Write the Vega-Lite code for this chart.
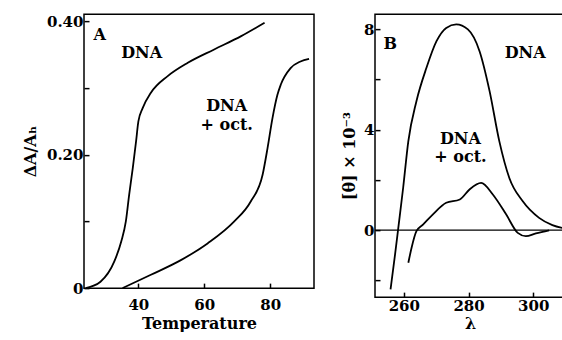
{
  "$schema": "https://vega.github.io/schema/vega-lite/v6.json",
  "background": "white",
  "padding": {"left": 21, "top": 13, "right": 0, "bottom": 0},
  "spacing": 25,
  "center": true,
  "config": {
    "view": {"stroke": "black", "strokeWidth": 1.5},
    "font": "DejaVu Serif",
    "axis": {
      "grid": false, "domain": false, "tickColor": "black", "tickSize": -5, "tickWidth": 1.5,
      "labelFont": "DejaVu Serif", "labelFontWeight": "bold", "labelFontSize": 15, "labelColor": "black",
      "titleFont": "DejaVu Serif", "titleFontWeight": "bold", "titleFontSize": 16, "titleColor": "black",
      "labelPadding": 6, "labelOverlap": false
    },
    "text": {"font": "DejaVu Serif", "fontWeight": "bold", "fontSize": 16, "color": "black"}
  },
  "datasets": {
    "melt": [
      {"series": "DNA", "T": 24, "v": 0},
      {"series": "DNA", "T": 28.5, "v": 0.0095},
      {"series": "DNA", "T": 32.7, "v": 0.04},
      {"series": "DNA", "T": 34.8, "v": 0.07},
      {"series": "DNA", "T": 36.2, "v": 0.10},
      {"series": "DNA", "T": 37.2, "v": 0.14},
      {"series": "DNA", "T": 38.3, "v": 0.18},
      {"series": "DNA", "T": 39.3, "v": 0.22},
      {"series": "DNA", "T": 40, "v": 0.25},
      {"series": "DNA", "T": 41.3, "v": 0.27},
      {"series": "DNA", "T": 43.8, "v": 0.293},
      {"series": "DNA", "T": 48.9, "v": 0.318},
      {"series": "DNA", "T": 55, "v": 0.338},
      {"series": "DNA", "T": 63, "v": 0.358},
      {"series": "DNA", "T": 71.2, "v": 0.378},
      {"series": "DNA", "T": 78.3, "v": 0.398},
      {"series": "oct", "T": 35.2, "v": 0},
      {"series": "oct", "T": 43.8, "v": 0.02},
      {"series": "oct", "T": 52.9, "v": 0.042},
      {"series": "oct", "T": 61, "v": 0.067},
      {"series": "oct", "T": 69.1, "v": 0.10},
      {"series": "oct", "T": 74.1, "v": 0.13},
      {"series": "oct", "T": 77.7, "v": 0.17},
      {"series": "oct", "T": 79.2, "v": 0.21},
      {"series": "oct", "T": 80.7, "v": 0.255},
      {"series": "oct", "T": 82.2, "v": 0.29},
      {"series": "oct", "T": 83.2, "v": 0.305},
      {"series": "oct", "T": 86.2, "v": 0.33},
      {"series": "oct", "T": 89.2, "v": 0.34},
      {"series": "oct", "T": 91.8, "v": 0.344}
    ],
    "cd": [
      {"series": "DNA", "w": 255.9, "t": -2.36},
      {"series": "DNA", "w": 257.3, "t": -0.97},
      {"series": "DNA", "w": 258.3, "t": 0.09},
      {"series": "DNA", "w": 259.8, "t": 1.69},
      {"series": "DNA", "w": 261.4, "t": 3.55},
      {"series": "DNA", "w": 263.9, "t": 5.14},
      {"series": "DNA", "w": 267.0, "t": 6.47},
      {"series": "DNA", "w": 270.1, "t": 7.53},
      {"series": "DNA", "w": 273.1, "t": 8.06},
      {"series": "DNA", "w": 276.2, "t": 8.2},
      {"series": "DNA", "w": 279.8, "t": 8.0},
      {"series": "DNA", "w": 283.4, "t": 7.13},
      {"series": "DNA", "w": 286.5, "t": 5.54},
      {"series": "DNA", "w": 289.5, "t": 3.55},
      {"series": "DNA", "w": 292.6, "t": 2.08},
      {"series": "DNA", "w": 296.7, "t": 1.16},
      {"series": "DNA", "w": 301.8, "t": 0.49},
      {"series": "DNA", "w": 305.9, "t": 0.2},
      {"series": "DNA", "w": 309.6, "t": 0.07},
      {"series": "oct", "w": 261.4, "t": -1.3},
      {"series": "oct", "w": 262.4, "t": -0.7},
      {"series": "oct", "w": 263.9, "t": -0.04},
      {"series": "oct", "w": 266.0, "t": 0.23},
      {"series": "oct", "w": 269.0, "t": 0.63},
      {"series": "oct", "w": 273.1, "t": 1.09},
      {"series": "oct", "w": 277.3, "t": 1.22},
      {"series": "oct", "w": 280.3, "t": 1.62},
      {"series": "oct", "w": 283.9, "t": 1.88},
      {"series": "oct", "w": 287.5, "t": 1.42},
      {"series": "oct", "w": 291.6, "t": 0.63},
      {"series": "oct", "w": 295.2, "t": -0.11},
      {"series": "oct", "w": 297.7, "t": -0.24},
      {"series": "oct", "w": 300.8, "t": -0.13},
      {"series": "oct", "w": 304.9, "t": -0.01}
    ],
    "labA": [
      {"T": 28.3, "v": 0.38, "label": "A"},
      {"T": 41, "v": 0.352, "label": "DNA"},
      {"T": 66.8, "v": 0.273, "label": "DNA"},
      {"T": 66.8, "v": 0.244, "label": "+ oct."}
    ],
    "labB": [
      {"w": 255.8, "t": 7.41, "label": "B"},
      {"w": 297.5, "t": 7.05, "label": "DNA"},
      {"w": 277.5, "t": 3.65, "label": "DNA"},
      {"w": 277.5, "t": 2.9, "label": "+ oct."}
    ],
    "zero": [{"t": 0}]
  },
  "hconcat": [
    {
      "width": 230,
      "height": 274,
      "layer": [
        {
          "data": {"name": "melt"},
          "mark": {"type": "line", "interpolate": "monotone", "color": "black", "strokeWidth": 1.8, "clip": true},
          "encoding": {
            "x": {"field": "T", "type": "quantitative", "scale": {"domain": [23.5, 93.3], "nice": false, "zero": false},
              "axis": {"title": "Temperature", "values": [40, 60, 80],
                "labelFlush": false, "labelOverlap": false,
                "labelFont": "DejaVu Serif", "labelFontWeight": "bold", "labelFontSize": 15, "labelColor": "black",
                "tickSize": -5, "tickColor": "black", "tickWidth": 1.5, "labelPadding": 14, "labelBaseline": "top",
                "zindex": 1, "titlePadding": 3}},
            "y": {"field": "v", "type": "quantitative", "scale": {"domain": [0, 0.411], "nice": false},
              "axis": {"title": "ΔA/Aₕ", "values": [0, 0.1, 0.2, 0.3, 0.4], "labelExpr": "datum.value == 0 ? '0' : (datum.value == 0.2 ? '0.20' : (datum.value == 0.4 ? '0.40' : ''))", "titlePadding": 8}},
            "detail": {"field": "series"}
          }
        },
        {
          "data": {"name": "labA"},
          "mark": {"type": "text"},
          "encoding": {
            "x": {"field": "T", "type": "quantitative"},
            "y": {"field": "v", "type": "quantitative"},
            "text": {"field": "label"}
          }
        }
      ]
    },
    {
      "width": 190,
      "height": 283,
      "layer": [
        {
          "data": {"name": "zero"},
          "mark": {"type": "rule", "color": "black", "strokeWidth": 1.3},
          "encoding": {"y": {"field": "t", "type": "quantitative"}}
        },
        {
          "data": {"name": "cd"},
          "mark": {"type": "line", "interpolate": "monotone", "color": "black", "strokeWidth": 1.8, "clip": true},
          "encoding": {
            "x": {"field": "w", "type": "quantitative", "scale": {"domain": [251.1, 309.8], "nice": false, "zero": false},
              "axis": {"title": "λ", "values": [260, 280, 300], "titlePadding": 2}},
            "y": {"field": "t", "type": "quantitative", "scale": {"domain": [-2.67, 8.61], "nice": false, "zero": false},
              "axis": {"title": "[θ] × 10⁻³", "values": [-2, 0, 2, 4, 6, 8], "labelExpr": "datum.value % 4 == 0 ? datum.label : ''", "titlePadding": 6}},
            "detail": {"field": "series"}
          }
        },
        {
          "data": {"name": "labB"},
          "mark": {"type": "text"},
          "encoding": {
            "x": {"field": "w", "type": "quantitative"},
            "y": {"field": "t", "type": "quantitative"},
            "text": {"field": "label"}
          }
        }
      ]
    }
  ]
}
